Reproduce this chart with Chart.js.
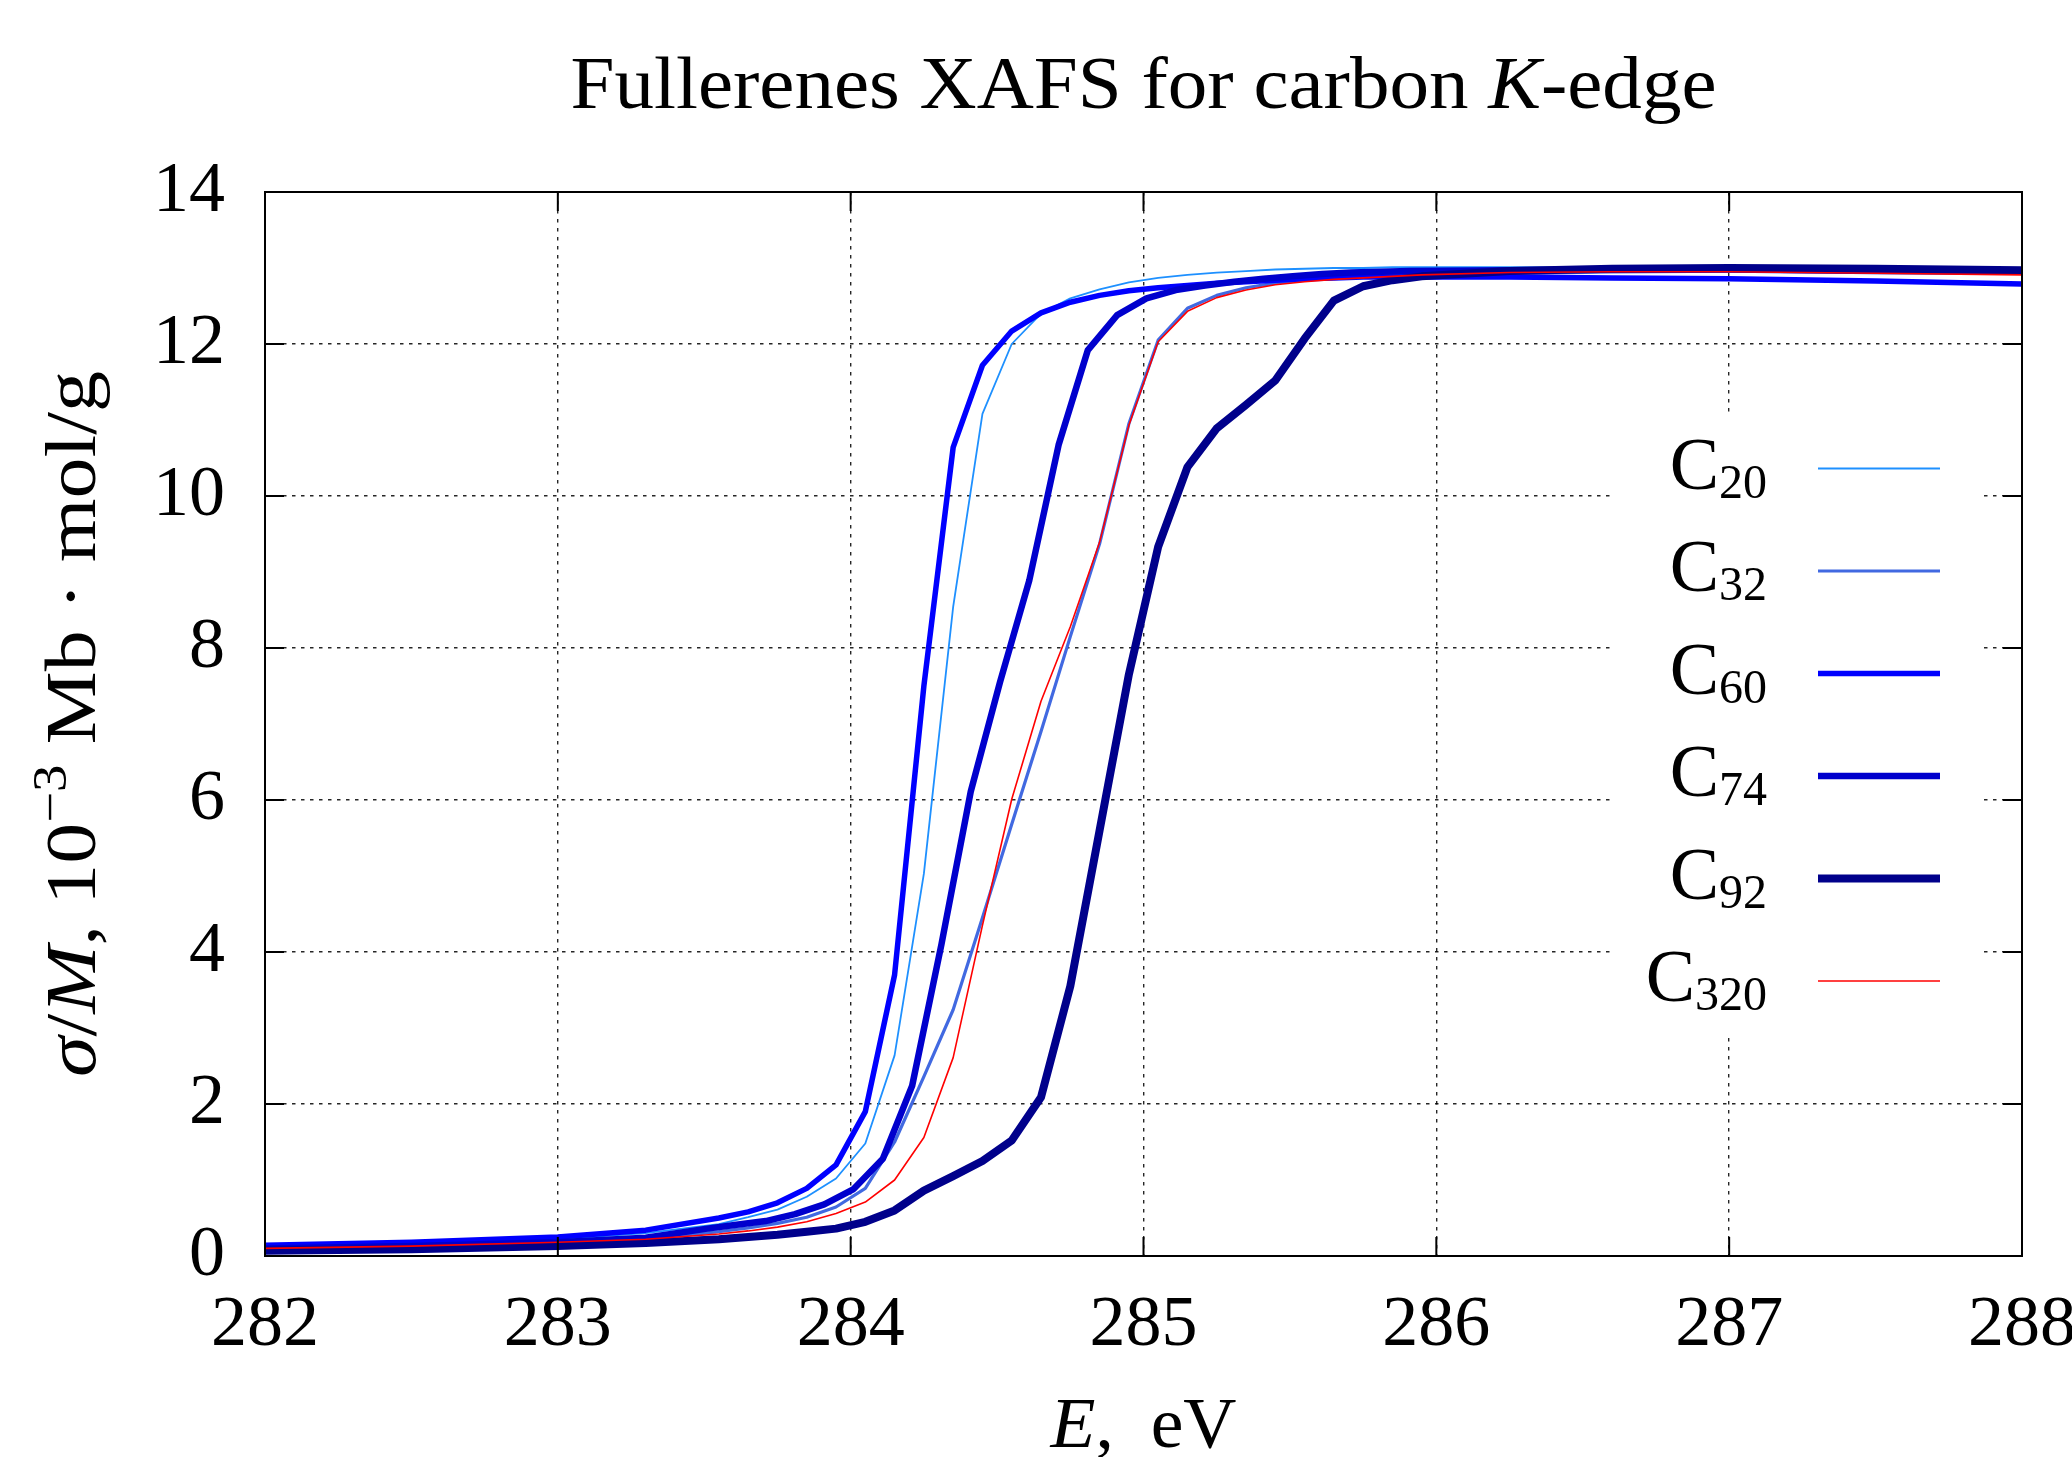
<!DOCTYPE html>
<html lang="en">
<head>
    <meta charset="UTF-8">
    <title>Fullerenes XAFS for carbon K-edge</title>
    <style>
        html, body { margin: 0; padding: 0; background: #fff; }
        #wrap { width: 2072px; height: 1457px; }
    </style>
    <script src="https://cdn.jsdelivr.net/npm/chart.js@4"></script>
</head>
<body>
    <div id="wrap"><canvas id="xafs" width="2072" height="1457"></canvas></div>

    <script>
        // photon energy, eV
        const energy = [282.0, 282.5, 283.0, 283.3, 283.55, 283.65, 283.75, 283.85, 283.95,
            284.05, 284.15, 284.25, 284.35, 284.45, 284.55, 284.65, 284.75, 284.85, 284.95,
            285.05, 285.15, 285.25, 285.35, 285.45, 285.55, 285.65, 285.75, 285.85, 285.95,
            286.25, 286.6, 287.0, 287.5, 288.0];
        // C74 points sit a little lower in energy
        const energyC74 = [282.0, 282.5, 283.0, 283.3, 283.51, 283.61, 283.71, 283.81, 283.91,
            284.01, 284.11, 284.21, 284.31, 284.41, 284.51, 284.61, 284.71, 284.81, 284.91,
            285.01, 285.11, 285.21, 285.31, 285.41, 285.51, 285.61, 285.71, 285.81, 285.91,
            286.25, 286.6, 287.0, 287.5, 288.0];

        // sigma/M, 10^-3 Mb*mol/g
        const c20 = [0.12, 0.16, 0.22, 0.30, 0.42, 0.51, 0.61, 0.78, 1.02,
            1.48, 2.64, 5.03, 8.54, 11.08, 12.0, 12.4, 12.6, 12.72, 12.81,
            12.87, 12.91, 12.94, 12.96, 12.98, 12.99, 13.0, 13.0, 13.01, 13.01,
            13.01, 13.0, 12.99, 12.97, 12.95];
        const c32 = [0.09, 0.12, 0.17, 0.22, 0.32, 0.37, 0.43, 0.51, 0.645,
            0.89, 1.5, 2.36, 3.24, 4.45, 5.68, 6.9, 8.15, 9.37, 10.95,
            12.05, 12.47, 12.64, 12.74, 12.8, 12.84, 12.87, 12.89, 12.9, 12.91,
            12.93, 12.95, 12.96, 12.95, 12.94];
        const c60 = [0.14, 0.18, 0.25, 0.34, 0.50, 0.58, 0.70, 0.89, 1.20,
            1.90, 3.70, 7.5, 10.64, 11.72, 12.17, 12.41, 12.55, 12.64, 12.70,
            12.74, 12.77, 12.80, 12.82, 12.84, 12.86, 12.87, 12.88, 12.88, 12.88,
            12.88, 12.87, 12.86, 12.83, 12.79];
        const c74 = [0.10, 0.13, 0.18, 0.24, 0.36, 0.41, 0.46, 0.55, 0.68,
            0.88, 1.28, 2.24, 4.1, 6.11, 7.55, 8.89, 10.67, 11.92, 12.38,
            12.6, 12.71, 12.77, 12.82, 12.86, 12.89, 12.92, 12.94, 12.95, 12.96,
            12.97, 12.98, 12.98, 12.96, 12.95];
        const c92 = [0.07, 0.09, 0.13, 0.17, 0.22, 0.25, 0.28, 0.32, 0.36,
            0.45, 0.60, 0.86, 1.05, 1.25, 1.52, 2.09, 3.55, 5.6, 7.65,
            9.33, 10.38, 10.89, 11.2, 11.52, 12.07, 12.57, 12.76, 12.84, 12.89,
            12.96, 12.99, 13.0, 12.99, 12.97];
        const c320 = [0.10, 0.13, 0.18, 0.22, 0.29, 0.33, 0.38, 0.45, 0.56,
            0.71, 1.0, 1.56, 2.61, 4.35, 6.01, 7.3, 8.28, 9.39, 10.93,
            12.03, 12.43, 12.61, 12.71, 12.78, 12.82, 12.85, 12.87, 12.89, 12.91,
            12.94, 12.95, 12.95, 12.93, 12.91];

        const xTicks = [282, 283, 284, 285, 286, 287, 288];
        const yTicks = [0, 2, 4, 6, 8, 10, 12, 14];

        const FONT = '"Liberation Serif", "DejaVu Serif", serif';

        // legend order = plotting order; later ones are painted on top
        const series = [
            { sub: '20',  xs: energy,    ys: c20,  color: '#1e90ff', width: 1.8 },
            { sub: '32',  xs: energy,    ys: c32,  color: '#4169e1', width: 3.2 },
            { sub: '60',  xs: energy,    ys: c60,  color: '#0000ff', width: 5.5 },
            { sub: '74',  xs: energyC74, ys: c74,  color: '#0000cd', width: 6.5 },
            { sub: '92',  xs: energy,    ys: c92,  color: '#00008b', width: 8 },
            { sub: '320', xs: energy,    ys: c320, color: '#ff0000', width: 1.6 }
        ];

        function runFont(r, base) {
            return (r.it ? 'italic ' : '') + (r.size || base) + 'px ' + FONT;
        }

        // draw a row of text pieces (italic / raised) centred on cx
        function drawRuns(ctx, runs, cx, baseY, base, fitWidth) {
            let total = 0;
            const widths = runs.map(r => {
                ctx.font = runFont(r, base);
                const w = ctx.measureText(r.t).width;
                total += w;
                return w;
            });
            const k = fitWidth ? fitWidth / total : 1;
            ctx.save();
            ctx.translate(cx - total * k / 2, baseY);
            ctx.scale(k, 1);
            ctx.textAlign = 'left';
            ctx.textBaseline = 'alphabetic';
            let x = 0;
            runs.forEach((r, i) => {
                ctx.font = runFont(r, base);
                ctx.fillText(r.t, x, -(r.dy || 0));
                x += widths[i];
            });
            ctx.restore();
        }

        const decor = {
            id: 'decor',
            beforeDatasetsDraw(chart) {
                // opaque key box hides the grid behind it
                const ctx = chart.ctx;
                ctx.save();
                ctx.fillStyle = '#fff';
                ctx.fillRect(1612, 416, 370, 617);
                ctx.restore();
            },
            afterDraw(chart) {
                const ctx = chart.ctx;
                const a = chart.chartArea;
                const x = chart.scales.x, y = chart.scales.y;
                ctx.save();
                ctx.fillStyle = '#000';
                ctx.strokeStyle = '#000';

                // border and mirrored inward ticks
                ctx.lineWidth = 2;
                ctx.strokeRect(a.left, a.top, a.right - a.left, a.bottom - a.top);
                ctx.beginPath();
                xTicks.forEach(v => {
                    const px = x.getPixelForValue(v);
                    ctx.moveTo(px, a.bottom); ctx.lineTo(px, a.bottom - 19);
                    ctx.moveTo(px, a.top); ctx.lineTo(px, a.top + 19);
                });
                yTicks.forEach(v => {
                    const py = y.getPixelForValue(v);
                    ctx.moveTo(a.left, py); ctx.lineTo(a.left + 19, py);
                    ctx.moveTo(a.right, py); ctx.lineTo(a.right - 19, py);
                });
                ctx.stroke();

                const midX = (a.left + a.right) / 2;

                // title
                drawRuns(ctx, [
                    { t: 'Fullerenes XAFS for carbon ' },
                    { t: 'K', it: true },
                    { t: '-edge' }
                ], midX, 108, 74, 1146);

                // x axis title
                drawRuns(ctx, [
                    { t: 'E', it: true },
                    { t: ',  eV' }
                ], midX, 1447, 72, 186);

                // y axis title
                ctx.save();
                ctx.translate(95, (a.top + a.bottom) / 2);
                ctx.rotate(-Math.PI / 2);
                drawRuns(ctx, [
                    { t: 'σ', it: true },
                    { t: '/' },
                    { t: 'M', it: true },
                    { t: ', 10' },
                    { t: '−3', size: 48, dy: 29 },
                    { t: ' Mb · mol/g' }
                ], 0, 0, 72, 706);
                ctx.restore();

                // key
                series.forEach((s, i) => {
                    const ly = 468.5 + i * 102.5;
                    ctx.font = '48px ' + FONT;
                    const subW = ctx.measureText(s.sub).width;
                    ctx.font = '74px ' + FONT;
                    const cW = ctx.measureText('C').width;
                    ctx.textAlign = 'left';
                    ctx.textBaseline = 'alphabetic';
                    ctx.fillText('C', 1767 - subW - cW, ly + 20);
                    ctx.font = '48px ' + FONT;
                    ctx.fillText(s.sub, 1767 - subW, ly + 29);

                    ctx.beginPath();
                    ctx.strokeStyle = s.color;
                    ctx.lineWidth = s.width;
                    ctx.moveTo(1818, ly);
                    ctx.lineTo(1940, ly);
                    ctx.stroke();
                });
                ctx.restore();
            }
        };

        const gridStyle = {
            color: 'rgba(0, 0, 0, 0.85)',
            lineWidth: 1.4,
            drawTicks: false
        };

        new Chart(document.getElementById('xafs'), {
            type: 'line',
            data: {
                datasets: series.map((s, i) => ({
                    label: 'C' + s.sub,
                    data: s.xs.map((e, j) => ({ x: e, y: s.ys[j] })),
                    borderColor: s.color,
                    borderWidth: s.width,
                    pointRadius: 0,
                    tension: 0,
                    fill: false,
                    borderJoinStyle: 'round',
                    order: series.length - i
                }))
            },
            options: {
                responsive: false,
                animation: false,
                events: [],
                layout: { padding: { left: 65, right: 50, top: 192, bottom: 41 } },
                plugins: {
                    legend: { display: false },
                    tooltip: { enabled: false },
                    title: { display: false }
                },
                scales: {
                    x: {
                        type: 'linear',
                        min: 282,
                        max: 288,
                        afterBuildTicks: s => { s.ticks = xTicks.map(v => ({ value: v })); },
                        afterFit: s => { s.height = 160; s.paddingLeft = 0; s.paddingRight = 0; },
                        grid: gridStyle,
                        border: { display: false, dash: [3.5, 5.5] },
                        ticks: {
                            padding: 27,
                            maxRotation: 0,
                            color: '#000',
                            font: { family: FONT, size: 72 }
                        }
                    },
                    y: {
                        type: 'linear',
                        min: 0,
                        max: 14,
                        afterBuildTicks: s => { s.ticks = yTicks.map(v => ({ value: v })); },
                        afterFit: s => { s.width = 200; s.paddingTop = 0; s.paddingBottom = 0; },
                        grid: gridStyle,
                        border: { display: false, dash: [3.5, 5.5] },
                        ticks: {
                            padding: 40,
                            color: '#000',
                            font: { family: FONT, size: 72 }
                        }
                    }
                }
            },
            plugins: [decor]
        });
    </script>
</body>
</html>
